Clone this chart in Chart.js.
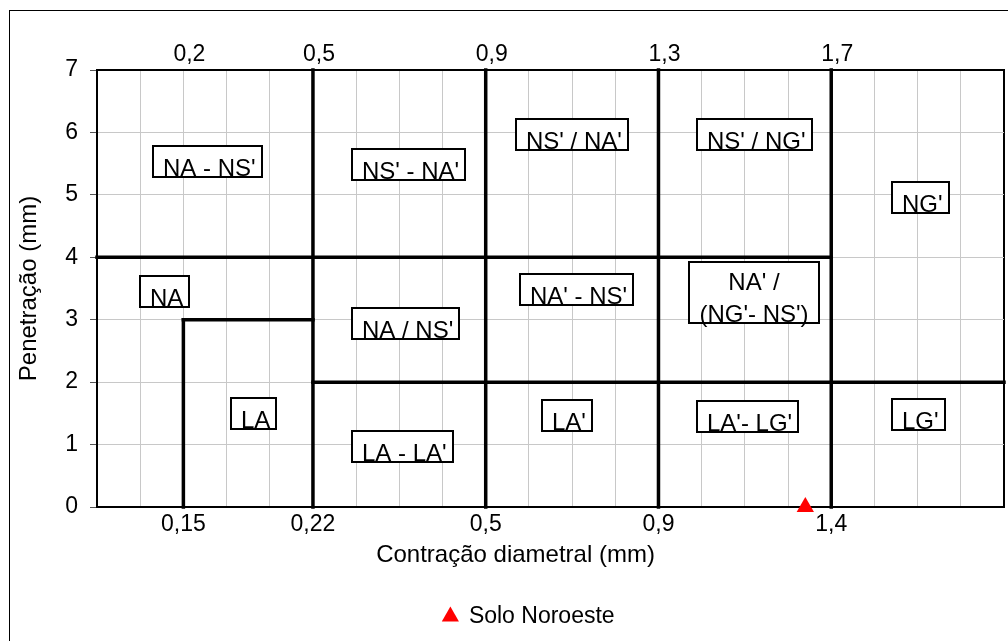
<!DOCTYPE html>
<html>
<head>
<meta charset="utf-8">
<title>Classificação MCT</title>
<script src="https://cdn.jsdelivr.net/npm/chart.js@4.4.1/dist/chart.umd.min.js"></script>
<style>
  body { margin: 0; background: #fff; }
</style>
</head>
<body>
<canvas id="grafico" width="1008" height="641"></canvas>
<script>
// divisoes verticais: c' no eixo de cima, e' correspondente no eixo de baixo
const limitesX = [0.2, 0.5, 0.9, 1.3, 1.7];
const rotulosSup = ["0,2", "0,5", "0,9", "1,3", "1,7"];
const rotulosInf = ["0,15", "0,22", "0,5", "0,9", "1,4"];

// fronteiras entre as classes [x1, y1, x2, y2]
const fronteiras = [
  [0, 4, 1.7, 4],
  [0.5, 2, 2.1, 2],
  [0.2, 3, 0.5, 3],
  [0.2, 0, 0.2, 3],
  [0.5, 0, 0.5, 7],
  [0.9, 0, 0.9, 7],
  [1.3, 0, 1.3, 7],
  [1.7, 0, 1.7, 7]
];

// amostra ensaiada
const amostraNome = "Solo Noroeste";
const amostraX = [1.64];
const amostraY = [0];

// nomes das classes e canto superior esquerdo da caixa (unidades do grafico)
const classes = ["NA - NS'", "NS' - NA'", "NS' / NA'", "NS' / NG'", "NG'", "NA", "LA",
  "NA / NS'", "NA' - NS'", "LA - LA'", "LA'", "NA' /\n(NG'- NS')", "LA'- LG'", "LG'"];
const classesX = [0.13, 0.59, 0.97, 1.39, 1.84, 0.10, 0.31, 0.59, 0.98, 0.59, 1.03, 1.37, 1.39, 1.84];
const classesY = [5.78, 5.73, 6.21, 6.21, 5.21, 3.70, 1.75, 3.19, 3.73, 1.22, 1.71, 3.92, 1.70, 1.73];

Chart.defaults.font.family = "'Liberation Sans', Arial, sans-serif";
Chart.defaults.color = "#000";

var conjuntos = [{
  label: amostraNome,
  data: amostraX.map(function (x, i) { return { x: x, y: amostraY[i] }; }),
  pointStyle: "triangle",
  pointRadius: 10,
  backgroundColor: "#ff0000",
  borderColor: "#ff0000",
  borderWidth: 0,
  clip: false
}];
fronteiras.forEach(function (f) {
  conjuntos.push({
    label: "",
    data: [{ x: f[0], y: f[1] }, { x: f[2], y: f[3] }],
    showLine: true,
    borderColor: "#000",
    borderWidth: 3.5,
    borderCapStyle: "square",
    pointRadius: 0,
    clip: false
  });
});

// sem folga lateral automatica nos eixos horizontais
function semFolga(eixo, altura) {
  eixo.height = altura;
  eixo.paddingLeft = 0;
  eixo.paddingRight = 0;
}

var extras = {
  id: "extras",
  beforeDraw: function (chart) {
    var ctx = chart.ctx;
    ctx.save();
    ctx.strokeStyle = "#000";
    ctx.lineWidth = 1;
    ctx.strokeRect(9.5, 10.5, 1200, 1000);
    ctx.restore();
  },
  afterLayout: function (chart) {
    // legenda do Excel fica um pouco a direita do centro
    chart.legend.left += 27;
    chart.legend.right += 27;
  },
  afterDatasetsDraw: function (chart) {
    var ctx = chart.ctx, sx = chart.scales.x, sy = chart.scales.y;
    ctx.save();
    ctx.font = "24px 'Liberation Sans', Arial, sans-serif";
    classes.forEach(function (txt, i) {
      var linhas = txt.split("\n");
      var dupla = linhas.length > 1;
      var esq = Math.round(sx.getPixelForValue(classesX[i]));
      var topo = Math.round(sy.getPixelForValue(classesY[i]));
      var w = 0;
      linhas.forEach(function (l) { w = Math.max(w, ctx.measureText(l).width); });
      w = Math.round(w + (dupla ? 21 : 16));
      var h = dupla ? 61 : 31;
      ctx.fillStyle = "#fff";
      ctx.fillRect(esq, topo, w, h);
      ctx.strokeStyle = "#000";
      ctx.lineWidth = 2;
      ctx.strokeRect(esq, topo, w, h);
      ctx.fillStyle = "#000";
      ctx.textBaseline = "alphabetic";
      if (dupla) {
        ctx.textAlign = "center";
        linhas.forEach(function (l, k) { ctx.fillText(l, esq + w / 2, topo + 28 + k * 32); });
      } else {
        ctx.textAlign = "left";
        ctx.fillText(txt, esq + 10, topo + h - 1);
      }
    });
    // titulo do eixo x (no original fica deslocado para a esquerda)
    ctx.font = "24px 'Liberation Sans', Arial, sans-serif";
    ctx.textAlign = "center";
    ctx.textBaseline = "middle";
    ctx.fillText("Contração diametral (mm)", (sx.left + sx.right) / 2 - 35, sx.top + 48);
    ctx.restore();
  }
};

var grafico = new Chart(document.getElementById("grafico"), {
  type: "scatter",
  data: { datasets: conjuntos },
  plugins: [extras],
  options: {
    responsive: false,
    animation: false,
    events: [],
    layout: { autoPadding: false, padding: { left: 0, right: 4, top: 0, bottom: 3 } },
    plugins: {
      tooltip: { enabled: false },
      legend: {
        position: "bottom",
        labels: {
          usePointStyle: true,
          boxWidth: 14,
          boxHeight: 14,
          font: { size: 23 },
          filter: function (item) { return item.text === amostraNome; }
        }
      }
    },
    scales: {
      x: {
        type: "linear",
        position: "bottom",
        min: 0,
        max: 2.1,
        ticks: {
          stepSize: 0.1,
          autoSkip: false,
          maxRotation: 0,
          minRotation: 0,
          padding: 4,
          font: { size: 23 },
          callback: function (v) {
            var i = limitesX.findIndex(function (l) { return Math.abs(l - v) < 1e-6; });
            return i >= 0 ? rotulosInf[i] : "";
          }
        },
        grid: {
          drawTicks: false,
          color: function (c) { return c.index === c.scale.ticks.length - 1 ? "#000" : "#c8c8c8"; },
          lineWidth: function (c) { return c.index === c.scale.ticks.length - 1 ? 2 : 1; }
        },
        border: { color: "#000", width: 2 },
        afterFit: function (eixo) { semFolga(eixo, 88); }
      },
      x2: {
        type: "linear",
        axis: "x",
        position: "top",
        min: 0,
        max: 2.1,
        afterBuildTicks: function (eixo) {
          eixo.ticks = limitesX.map(function (v) { return { value: v }; });
        },
        ticks: {
          autoSkip: false,
          maxRotation: 0,
          minRotation: 0,
          padding: 2,
          labelOffset: 6,
          font: { size: 23 },
          callback: function (v, i) { return rotulosSup[i]; }
        },
        grid: { display: false, drawTicks: false },
        border: { display: true, color: "#000", width: 2 },
        afterFit: function (eixo) { semFolga(eixo, 70); }
      },
      y: {
        min: 0,
        max: 7,
        ticks: { stepSize: 1, padding: 12, font: { size: 23 } },
        grid: { color: "#c8c8c8", tickColor: "#555", tickLength: 7 },
        border: { color: "#000", width: 2 },
        title: {
          display: true,
          text: "Penetração (mm)",
          font: { size: 24 },
          padding: { top: 15, bottom: 0 }
        },
        afterFit: function (eixo) { eixo.width = 97; }
      }
    }
  }
});
</script>
</body>
</html>
